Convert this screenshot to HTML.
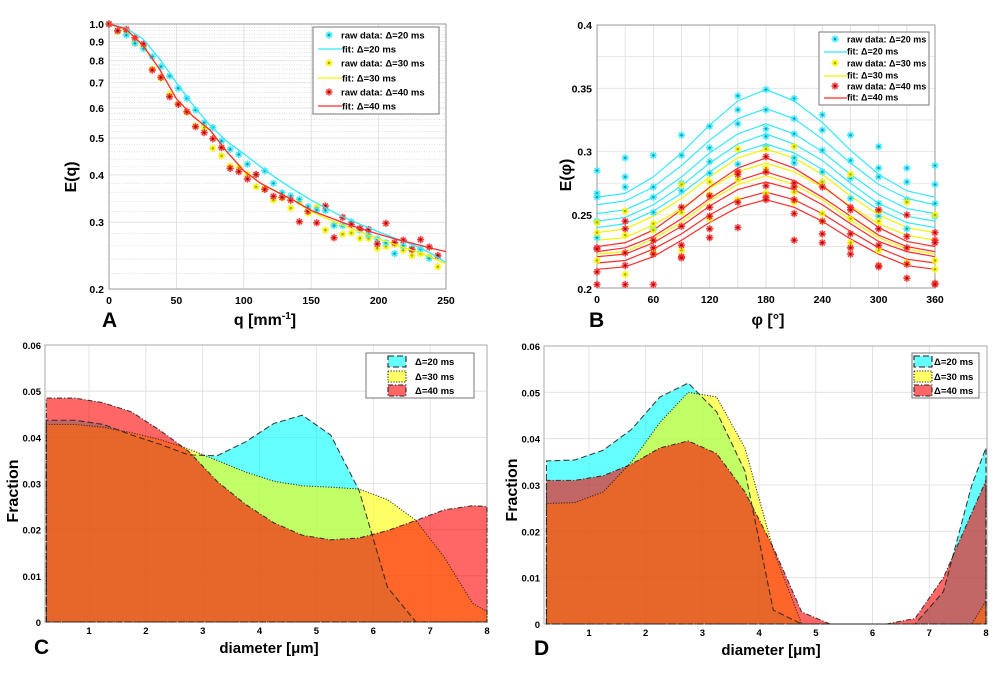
<!DOCTYPE html>
<html><head><meta charset="utf-8"><style>
html,body{margin:0;padding:0;background:#fff;}
svg{display:block;font-family:"Liberation Sans",Arial,sans-serif;font-weight:bold;}
</style></head><body>
<svg id="fig" width="1000" height="677" viewBox="0 0 1000 677" xmlns="http://www.w3.org/2000/svg">
<rect x="0" y="0" width="1000" height="677" fill="#fff"/>
<g id="gA"></g>
<g id="gB"></g>
<g id="gC"></g>
<g id="gD"></g>
<!-- static labels -->
<text x="265" y="325" font-size="16" text-anchor="middle">q [mm<tspan font-size="10" dy="-6">-1</tspan><tspan dy="6">]</tspan></text>
<text x="102" y="327" font-size="21">A</text>
<text transform="translate(76,177) rotate(-90)" font-size="16" text-anchor="middle">E(q)</text>
<text x="768" y="325" font-size="16" text-anchor="middle">φ [°]</text>
<text x="589" y="327" font-size="21">B</text>
<text transform="translate(571,175) rotate(-90)" font-size="16" text-anchor="middle">E(φ)</text>
<text x="269" y="653" font-size="15" text-anchor="middle">diameter [μm]</text>
<text x="34" y="654" font-size="21">C</text>
<text transform="translate(18,491) rotate(-90)" font-size="16" text-anchor="middle">Fraction</text>
<text x="771" y="655" font-size="15" text-anchor="middle">diameter [μm]</text>
<text x="534" y="655" font-size="21">D</text>
<text transform="translate(517,490) rotate(-90)" font-size="16" text-anchor="middle">Fraction</text>
</svg>
<script>
// ===== Panel A data =====
const qRaw = [0,6.42,12.84,19.26,25.68,32.1,38.52,44.94,51.36,57.78,64.2,70.62,77.04,83.46,89.88,96.3,102.72,109.14,115.56,121.98,128.4,134.82,141.24,147.66,154.08,160.5,166.92,173.34,179.76,186.18,192.6,199.02,205.44,211.86,218.28,224.7,231.12,237.54,243.96];
const rawA20 = [1.0,0.960,0.935,0.889,0.861,0.820,0.772,0.729,0.677,0.637,0.593,0.549,0.533,0.491,0.467,0.453,0.427,0.400,0.410,0.380,0.359,0.352,0.345,0.330,0.323,0.322,0.294,0.294,0.301,0.286,0.278,0.271,0.265,0.248,0.260,0.256,0.255,0.241,0.244];
const rawA30 = [1.0,0.955,0.955,0.893,0.870,0.760,0.720,0.652,0.615,0.585,0.538,0.533,0.470,0.449,0.422,0.418,0.401,0.372,0.368,0.343,0.348,0.327,0.340,0.317,0.328,0.286,0.295,0.279,0.281,0.272,0.272,0.256,0.259,0.262,0.253,0.245,0.248,0.243,0.229];
const rawA40 = [1.0,0.960,0.968,0.920,0.886,0.756,0.723,0.643,0.614,0.587,0.536,0.517,0.498,0.472,0.416,0.408,0.390,0.401,0.366,0.351,0.349,0.343,0.301,0.321,0.299,0.331,0.273,0.309,0.296,0.289,0.287,0.263,0.298,0.265,0.269,0.254,0.270,0.258,0.245];
const qFit = [0,12.5,25,37.5,50,62.5,75,87.5,100,112.5,125,137.5,150,162.5,175,187.5,200,212.5,225,237.5,250];
const fitA20 = [1.0,0.975,0.915,0.81,0.70,0.61,0.54,0.49,0.455,0.42,0.39,0.365,0.343,0.325,0.308,0.295,0.283,0.272,0.262,0.250,0.235];
const fitA30 = [1.0,0.97,0.88,0.76,0.635,0.57,0.525,0.46,0.41,0.38,0.36,0.342,0.32,0.306,0.293,0.282,0.271,0.262,0.253,0.244,0.233];
const fitA40 = [1.0,0.97,0.88,0.76,0.635,0.57,0.525,0.46,0.41,0.38,0.36,0.342,0.322,0.31,0.298,0.288,0.279,0.271,0.264,0.257,0.251];
const ticksAy = [1.0,0.9,0.8,0.7,0.6,0.5,0.4,0.3,0.2];
const tickLabelsAy = ["1.0","0.9","0.8","0.7","0.6","0.5","0.4","0.3","0.2"];
const ticksAx = [0,50,100,150,200,250];

// ===== Panel B data =====
const phi = [0,30,60,90,120,150,180,210,240,270,300,330,360];
const fitB20 = [
 [.264,.267,.280,.299,.321,.340,.349,.340,.323,.301,.282,.269,.264],
 [.258,.261,.272,.289,.309,.326,.334,.326,.310,.291,.274,.263,.258],
 [.251,.254,.264,.280,.299,.314,.322,.314,.300,.282,.266,.255,.251],
 [.245,.248,.258,.273,.291,.306,.314,.306,.293,.275,.259,.249,.245],
 [.240,.243,.253,.267,.284,.299,.306,.299,.286,.269,.254,.244,.240]];
const fitB30 = [
 [.236,.239,.249,.263,.280,.295,.302,.295,.282,.265,.250,.240,.236],
 [.230,.232,.242,.255,.271,.284,.291,.284,.272,.257,.243,.234,.230],
 [.219,.221,.231,.244,.261,.274,.281,.274,.262,.246,.232,.223,.219]];
const fitB40 = [
 [.225,.228,.238,.254,.272,.287,.295,.287,.273,.256,.240,.229,.225],
 [.221,.224,.233,.247,.263,.277,.284,.277,.264,.249,.234,.225,.221],
 [.217,.219,.228,.241,.257,.270,.276,.270,.258,.243,.229,.221,.217],
 [.212,.214,.223,.235,.250,.262,.268,.262,.251,.237,.224,.215,.212],
 [.207,.209,.217,.230,.244,.256,.262,.256,.245,.231,.219,.210,.207]];
const rawB20 = [[.285,.267,.264,.245,.232],[.295,.280,.272],[.297,.272,.264,.252,.239],[.313,.297,.275,.269],[.320,.303,.292,.283],[.344,.333,.322,.290],[.349,.333,.318,.312,.304],[.342,.326,.314,.295,.291],[.329,.317,.301,.284,.276],[.313,.293,.279,.263],[.304,.287,.280,.259,.249],[.287,.276,.262,.239],[.289,.274,.259,.249]];
const rawB30 = [[.244,.236,.214],[.253,.234,.203],[.243,.238,.220],[.274,.252,.222],[.276,.266,.247],[.302,.278,.262],[.302,.287,.267],[.304,.268,.260],[.276,.251,.245],[.282,.247,.228],[.253,.245,.222],[.260,.212],[.250,.214,.207]];
const rawB40 = [[.224,.223,.205,.195],[.245,.239,.220,.210,.195],[.230,.224,.219,.195],[.256,.241,.226,.217,.216],[.265,.256,.249,.239,.232],[.284,.282,.260,.240],[.296,.284,.273,.264,.262],[.275,.272,.262,.251,.230],[.272,.245,.235,.228],[.256,.254,.235,.224,.219],[.254,.239,.226,.210,.209],[.250,.233,.224,.211,.200],[.236,.230,.228,.196,.195]];
const ticksBy = [0.4,0.35,0.3,0.25];
const tickLabelsBy = ["0.4","0.35","0.3","0.25"];
const ticksBx = [0,60,120,180,240,300,360];

// ===== Panels C/D data =====
const diam = [0.25,0.75,1.25,1.75,2.25,2.75,3.25,3.75,4.25,4.75,5.25,5.75,6.25,6.75,7.25,7.75,8];
const fracC20 = [0.0437,0.0437,0.0428,0.0405,0.0385,0.0362,0.0360,0.0390,0.0430,0.0448,0.0405,0.0285,0.0075,0,0,0,0];
const fracC30 = [0.0428,0.0428,0.0422,0.0410,0.0395,0.0375,0.0350,0.0325,0.0305,0.0295,0.0292,0.0288,0.0265,0.0220,0.0140,0.0040,0.0023];
const fracC40 = [0.0485,0.0485,0.0475,0.0455,0.0415,0.0370,0.0305,0.0255,0.0215,0.0188,0.0178,0.0182,0.0198,0.0220,0.0243,0.0252,0.0250];
const fracD20 = [0.0352,0.0354,0.0375,0.0420,0.0490,0.0520,0.0458,0.0330,0.0030,0,0,0,0,0,0.0070,0.0300,0.0380];
const fracD30 = [0.0260,0.0262,0.0285,0.0350,0.0435,0.0500,0.0490,0.0380,0.0160,0,0,0,0,0,0,0,0.0050];
const fracD40 = [0.0310,0.0310,0.0320,0.0345,0.0380,0.0395,0.0368,0.0285,0.0165,0.0026,0,0,0,0.0012,0.0100,0.0240,0.0310];
const ticksCy = [0,0.01,0.02,0.03,0.04,0.05,0.06];
const tickLabelsCy = ["0","0.01","0.02","0.03","0.04","0.05","0.06"];
const ticksCx = [1,2,3,4,5,6,7,8];

const NS='http://www.w3.org/2000/svg';
function mk(tag, attrs, parent){const e=document.createElementNS(NS,tag);for(const k in attrs)e.setAttribute(k,attrs[k]);parent.appendChild(e);return e;}

// scales
const xA=q=>109+q/250*337, yA=v=>24+(-Math.log(v))/Math.log(5)*265;
const xB=p=>597+p/360*338, yB=v=>25+(0.4-v)*1266;
const xC=d=>89+(d-1)*56.86, yC=f=>622-f/0.06*277;
const xD=d=>589+(d-1)*56.71, yD=f=>624-f/0.06*278;

function star(g,x,y,col,dark,name){
  const s=mk('g',{},g);
  
  
  const r=3.6;
  for(const a of [0,45,90,135]){
    const c=Math.cos(a*Math.PI/180)*r, sn=Math.sin(a*Math.PI/180)*r;
    const l=mk('line',{x1:x-c,y1:y-sn,x2:x+c,y2:y+sn,stroke:col,'stroke-width':1.6,opacity:0.9},s);
    
    
  }
  const d=mk('circle',{cx:x,cy:y,r:1.2,fill:dark},s);
  
  
}
function txt(g,x,y,s,size,anchor,name){
  const t=mk('text',{x:x,y:y,'font-size':size,'text-anchor':anchor||'start'},g);
  t.textContent=s;
  
  
  return t;
}

// ===== Panel A =====
(function(){
  const g=document.getElementById('gA');
  const fr=mk('rect',{x:109,y:24,width:337,height:265,fill:'#fff',stroke:'none'},g);
  
  
  for(let v=0.22;v<1.0;v+=0.02){
    const l=mk('line',{x1:109,x2:446,y1:yA(v),y2:yA(v),stroke:'#ccc','stroke-width':0.6,'stroke-dasharray':'1,1.5'},g);
    
    
  }
  ticksAy.forEach((v,i)=>{
    const l=mk('line',{x1:109,x2:446,y1:yA(v),y2:yA(v),stroke:'#ddd','stroke-width':0.8},g);
    
    
    txt(g,104,yA(v)+4,tickLabelsAy[i],10.5,'end','y-tick-label');
  });
  ticksAx.forEach(q=>{
    const l=mk('line',{x1:xA(q),x2:xA(q),y1:24,y2:289,stroke:'#ddd','stroke-width':0.8},g);
    
    
    txt(g,xA(q),304,String(q),10.5,'middle','x-tick-label');
  });
  const bd=mk('rect',{x:109,y:24,width:337,height:265,fill:'none',stroke:'#999','stroke-width':1},g);
  
  
  const series=[[rawA30,fitA30,'#f4f400','#b0a000','30'],[rawA20,fitA20,'#33e8ff','#1a9aa8','20'],[rawA40,fitA40,'#ff2a2a','#8a1010','40']];
  series.forEach(s=>{
    s[0].forEach((v,i)=>star(g,xA(qRaw[i]),yA(v),s[2],s[3],'raw-point-'+s[4]+'ms'));
  });
  [[fitA20,'#33e8ff','20'],[fitA30,'#f4f400','30'],[fitA40,'#ff2a2a','40']].forEach(s=>{
    const p=mk('polyline',{points:s[0].map((v,i)=>xA(qFit[i])+','+yA(v)).join(' '),fill:'none',stroke:s[1],'stroke-width':1.3},g);
    
    
  });
  // legend
  const lg=mk('g',{},g);
  
  
  const lb=mk('rect',{x:313,y:27,width:126,height:87,fill:'#fff',stroke:'#777','stroke-width':1},lg);
  
  
  const ent=[['raw data: Δ=20 ms','#33e8ff','#1a9aa8',0],['fit: Δ=20 ms','#33e8ff','',1],['raw data: Δ=30 ms','#f4f400','#b0a000',0],['fit: Δ=30 ms','#f4f400','',1],['raw data: Δ=40 ms','#ff2a2a','#8a1010',0],['fit: Δ=40 ms','#ff2a2a','',1]];
  const ys=[35,49,63,78,92,106];
  ent.forEach((e,i)=>{
    if(e[3]){const l=mk('line',{x1:318,x2:342,y1:ys[i],y2:ys[i],stroke:e[1],'stroke-width':1.3},lg);
      
      }
    else star(lg,329,ys[i],e[1],e[2],'legend-marker');
    txt(lg,e[3]?342:341,ys[i]+3.5,e[0],9.5,'start','legend-entry');
  });
})();

// ===== Panel B =====
(function(){
  const g=document.getElementById('gB');
  const ymin=0.1916;
  for(let p=30;p<360;p+=30){
    const l=mk('line',{x1:xB(p),x2:xB(p),y1:25,y2:288,stroke:'#ddd','stroke-width':0.8},g);
    
    
  }
  [0.35,0.3,0.25,0.225,0.275,0.325,0.375].forEach(v=>{
    const l=mk('line',{x1:597,x2:935,y1:yB(v),y2:yB(v),stroke:'#e2e2e2','stroke-width':0.8},g);
    
    
  });
  ticksBy.forEach((v,i)=>txt(g,592,yB(v)+4,tickLabelsBy[i],10.5,'end','y-tick-label'));
  txt(g,592,yB(ymin)+4,'0.2',10.5,'end','y-tick-label');
  ticksBx.forEach(p=>txt(g,xB(p),303,String(p),10.5,'middle','x-tick-label'));
  const bd=mk('rect',{x:597,y:25,width:338,height:263,fill:'none',stroke:'#999','stroke-width':1},g);
  
  
  [[fitB20,'#33e8ff','20'],[fitB30,'#f4f400','30'],[fitB40,'#ff2a2a','40']].forEach(s=>{
    s[0].forEach(arr=>{
      const p=mk('polyline',{points:arr.map((v,i)=>xB(phi[i])+','+yB(v)).join(' '),fill:'none',stroke:s[1],'stroke-width':1.2},g);
      
      
    });
  });
  [[rawB20,'#33e8ff','#1a9aa8','20'],[rawB30,'#f4f400','#b0a000','30'],[rawB40,'#ff2a2a','#8a1010','40']].forEach(s=>{
    s[0].forEach((vals,i)=>vals.forEach(v=>star(g,xB(phi[i]),yB(v),s[1],s[2],'raw-point-'+s[3]+'ms')));
  });
  const lg=mk('g',{},g);
  
  
  const lb=mk('rect',{x:819,y:32,width:110,height:73,fill:'#fff',stroke:'#777','stroke-width':1},lg);
  
  
  const ent=[['raw data: Δ=20 ms','#33e8ff','#1a9aa8',0],['fit: Δ=20 ms','#33e8ff','',1],['raw data: Δ=30 ms','#f4f400','#b0a000',0],['fit: Δ=30 ms','#f4f400','',1],['raw data: Δ=40 ms','#ff2a2a','#8a1010',0],['fit: Δ=40 ms','#ff2a2a','',1]];
  const ys=[39,51,63,75,86,97];
  ent.forEach((e,i)=>{
    if(e[3]){const l=mk('line',{x1:824,x2:847,y1:ys[i]+1,y2:ys[i]+1,stroke:e[1],'stroke-width':1.3},lg);
      
      }
    else star(lg,835,ys[i],e[1],e[2],'legend-marker');
    txt(lg,847,ys[i]+3.5,e[0],9,'start','legend-entry');
  });
})();

// ===== Panels C/D =====
function areaPanel(gid,xs,ys,left,right,top,bottom,s20,s30,s40,lgx,lgw,swx,tx){
  const g=document.getElementById(gid);
  ticksCx.forEach(d=>{
    if(d<8){const l=mk('line',{x1:xs(d),x2:xs(d),y1:top,y2:bottom,stroke:'#ddd','stroke-width':0.8},g);
      
      }
    txt(g,xs(d),bottom+12,String(d),9.5,'middle','x-tick-label');
  });
  ticksCy.forEach((v,i)=>{
    if(v>0&&v<0.06){const l=mk('line',{x1:left,x2:right,y1:ys(v),y2:ys(v),stroke:'#ddd','stroke-width':0.8},g);
      
      }
    txt(g,left-4,ys(v)+4,tickLabelsCy[i],9.5,'end','y-tick-label');
  });
  const bd=mk('rect',{x:left,y:top,width:right-left,height:bottom-top,fill:'none',stroke:'#aaa','stroke-width':1},g);
  
  
  const defs=[[s20,'#00ffff','6,3','20'],[s30,'#ffff00','1.2,1.5','30'],[s40,'#ff0000','5,2,1.2,2','40']];
  defs.forEach(d=>{
    const pts=d[0].map((f,i)=>xs(diam[i])+','+ys(f));
    const poly=[xs(diam[0])+','+ys(0)].concat(pts,[xs(diam[diam.length-1])+','+ys(0)]).join(' ');
    const a=mk('polygon',{points:poly,fill:d[1],'fill-opacity':0.6,stroke:'none'},g);
    
    
  });
  defs.forEach(d=>{
    const pts=d[0].map((f,i)=>xs(diam[i])+','+ys(f));
    const poly=[xs(diam[0])+','+ys(0)].concat(pts,[xs(diam[diam.length-1])+','+ys(0)]).join(' ');
    const o=mk('polygon',{points:poly,fill:'none',stroke:'#222','stroke-width':1.1,'stroke-dasharray':d[2],'stroke-opacity':0.85},g);
    
    
  });
  const lg=mk('g',{},g);
  
  
  const lb=mk('rect',{x:lgx,y:353,width:lgw,height:45,fill:'#fff',stroke:'#777','stroke-width':1},lg);
  
  
  const cols=[['#66ffff','6,3','Δ=20 ms'],['#ffff66','1.2,1.5','Δ=30 ms'],['#ff6666','5,2,1.2,2','Δ=40 ms']];
  [356,371,385].forEach((y,i)=>{
    const r=mk('rect',{x:swx,y:y,width:18,height:11,fill:cols[i][0],stroke:'#222','stroke-width':1.1,'stroke-dasharray':cols[i][1]},lg);
    
    
    txt(lg,tx,y+9,cols[i][2],9.5,'start','legend-entry');
  });
}
areaPanel('gC',xC,yC,45,487,345,622,fracC20,fracC30,fracC40,366,108,388,415);
areaPanel('gD',xD,yD,544,987,346,624,fracD20,fracD30,fracD40,912,67,914,934);
</script>
</body></html>
